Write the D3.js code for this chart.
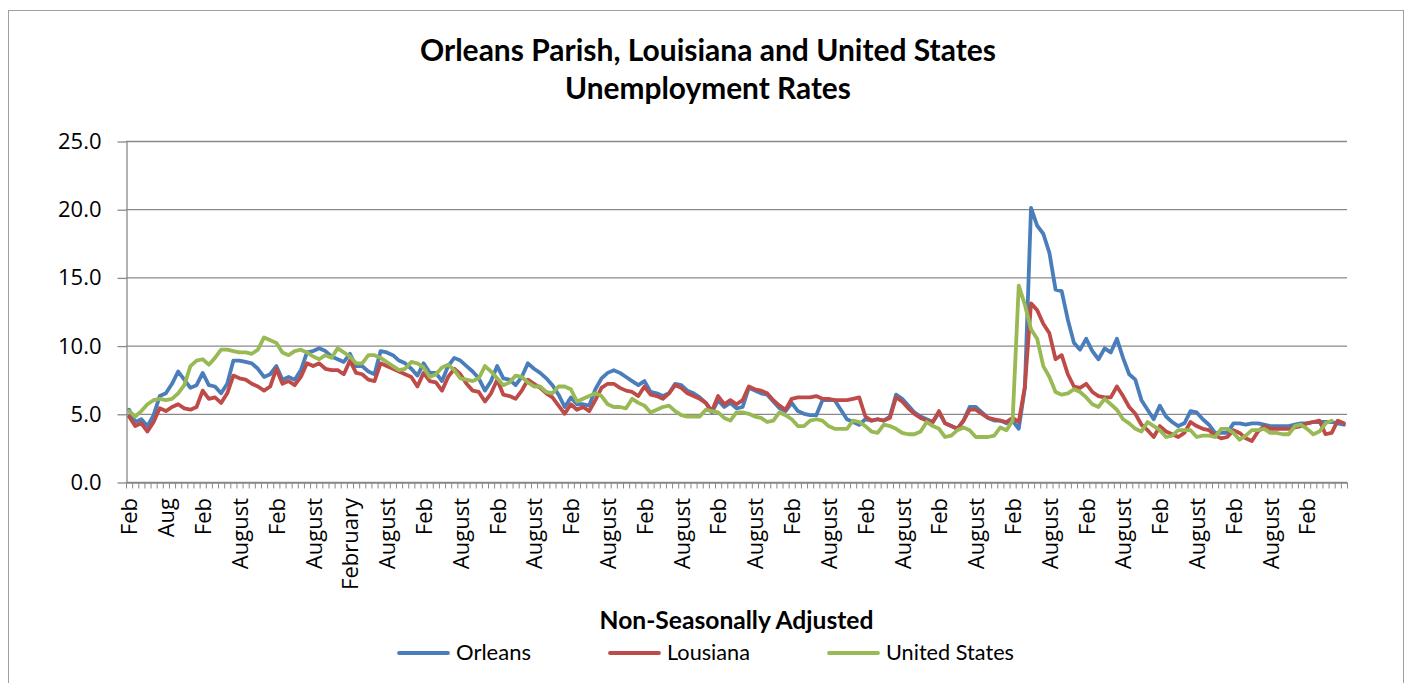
<!DOCTYPE html>
<html>
<head>
<meta charset="utf-8">
<script src="https://cdn.jsdelivr.net/npm/d3@7/dist/d3.min.js"></script>
<style>
	body { margin: 0; background: #fff; }
	#vizHolder { width: 1412px; height: 683px; overflow: hidden; }
	text { fill: #000; }
</style>
</head>
<body>
<div id="vizHolder"></div>
<script>
// Monthly, non-seasonally adjusted rates (categories run 199 months)
var tickLabels = ['Feb', 'Aug', 'Feb', 'August', 'Feb', 'August', 'February', 'August',
	'Feb', 'August', 'Feb', 'August', 'Feb', 'August', 'Feb', 'August', 'Feb', 'August',
	'Feb', 'August', 'Feb', 'August', 'Feb', 'August', 'Feb', 'August', 'Feb', 'August',
	'Feb', 'August', 'Feb', 'August', 'Feb'];
var labelEvery = 6;
var monthCount = 199;

var orleans = [
	5.3, 4.4, 4.6, 4.1, 4.9, 6.3, 6.5, 7.2, 8.1, 7.5,
	6.9, 7.1, 8.0, 7.1, 7.0, 6.5, 7.2, 8.9, 8.9, 8.8,
	8.7, 8.3, 7.7, 7.9, 8.5, 7.5, 7.7, 7.5, 8.2, 9.5,
	9.6, 9.8, 9.6, 9.2, 9.0, 8.8, 9.4, 8.5, 8.5, 8.1,
	7.9, 9.6, 9.5, 9.3, 8.9, 8.7, 8.3, 7.8, 8.7, 8.0,
	8.0, 7.4, 8.5, 9.1, 8.9, 8.5, 8.1, 7.6, 6.7, 7.4,
	8.5, 7.6, 7.5, 7.1, 7.7, 8.7, 8.3, 8.0, 7.6, 7.1,
	6.4, 5.5, 6.2, 5.7, 5.7, 5.6, 6.8, 7.6, 8.0, 8.2,
	8.0, 7.7, 7.4, 7.1, 7.4, 6.6, 6.5, 6.3, 6.5, 7.2,
	7.1, 6.7, 6.5, 6.2, 5.8, 5.1, 6.0, 5.5, 5.8, 5.4,
	5.5, 6.9, 6.7, 6.5, 6.4, 5.9, 5.4, 5.2, 5.8, 5.2,
	5.0, 4.9, 4.9, 6.0, 6.0, 6.0, 5.3, 4.6, 4.4, 4.2,
	4.6, 4.5, 4.6, 4.5, 4.8, 6.4, 6.1, 5.6, 5.1, 4.8,
	4.6, 4.4, 5.1, 4.3, 4.1, 3.9, 4.5, 5.5, 5.5, 5.1,
	4.7, 4.5, 4.5, 4.3, 4.5, 3.9, 6.9, 20.1, 18.8, 18.2,
	16.8, 14.1, 14.0, 11.9, 10.2, 9.7, 10.5, 9.6, 9.0, 9.8,
	9.5, 10.5, 9.1, 7.9, 7.5, 6.0, 5.3, 4.6, 5.6, 4.8,
	4.4, 4.1, 4.3, 5.2, 5.1, 4.6, 4.2, 3.6, 3.6, 3.6,
	4.3, 4.3, 4.2, 4.3, 4.3, 4.2, 4.1, 4.1, 4.1, 4.1,
	4.2, 4.3, 4.3, 4.4, 4.4, 4.4, 4.4, 4.3, 4.2
];

var louisiana = [
	4.8, 4.1, 4.3, 3.7, 4.4, 5.4, 5.2, 5.5, 5.7, 5.4,
	5.3, 5.5, 6.7, 6.1, 6.2, 5.8, 6.5, 7.8, 7.6, 7.5,
	7.2, 7.0, 6.7, 7.0, 8.3, 7.2, 7.4, 7.1, 7.7, 8.7,
	8.5, 8.7, 8.3, 8.2, 8.2, 7.9, 8.9, 8.0, 7.9, 7.5,
	7.4, 8.7, 8.5, 8.3, 8.1, 7.9, 7.7, 7.0, 8.0, 7.4,
	7.3, 6.7, 7.7, 8.3, 7.9, 7.2, 6.7, 6.6, 5.9, 6.5,
	7.5, 6.4, 6.3, 6.1, 6.7, 7.5, 7.2, 6.9, 6.5, 6.2,
	5.6, 5.0, 5.7, 5.3, 5.5, 5.2, 6.0, 6.9, 7.2, 7.2,
	6.9, 6.7, 6.6, 6.3, 7.0, 6.4, 6.3, 6.1, 6.5, 7.1,
	6.9, 6.5, 6.3, 6.1, 5.8, 5.2, 6.3, 5.7, 6.0, 5.7,
	6.0, 7.0, 6.8, 6.7, 6.5, 6.0, 5.6, 5.3, 6.1, 6.2,
	6.2, 6.2, 6.3, 6.1, 6.1, 6.0, 6.0, 6.0, 6.1, 6.2,
	4.8, 4.5, 4.6, 4.5, 4.7, 6.2, 5.9, 5.4, 5.0, 4.7,
	4.5, 4.4, 5.2, 4.3, 4.1, 3.9, 4.5, 5.3, 5.3, 5.0,
	4.7, 4.6, 4.5, 4.4, 4.7, 4.4, 7.0, 13.1, 12.6, 11.6,
	10.9, 9.0, 9.3, 7.9, 7.0, 6.9, 7.2, 6.6, 6.3, 6.2,
	6.2, 7.0, 6.3, 5.5, 5.0, 4.2, 3.8, 3.3, 4.1, 3.7,
	3.5, 3.3, 3.6, 4.4, 4.1, 3.9, 3.8, 3.4, 3.2, 3.3,
	3.8, 3.6, 3.2, 3.0, 3.7, 4.1, 3.9, 3.9, 3.9, 3.9,
	4.0, 4.1, 4.3, 4.4, 4.5, 3.5, 3.6, 4.5, 4.3
];

var unitedStates = [
	5.2, 4.8, 5.2, 5.7, 6.0, 6.1, 6.0, 6.1, 6.5, 7.1,
	8.5, 8.9, 9.0, 8.6, 9.1, 9.7, 9.7, 9.6, 9.5, 9.5, 9.4, 9.7,
	10.6, 10.4, 10.2, 9.5, 9.3, 9.6, 9.7, 9.5, 9.2, 9.0, 9.3, 9.1,
	9.8, 9.5, 9.2, 8.7, 8.7, 9.3, 9.3, 9.1, 8.8, 8.5, 8.2, 8.3,
	8.8, 8.7, 8.4, 7.7, 7.9, 8.4, 8.6, 8.2, 7.6, 7.5, 7.4, 7.6,
	8.5, 8.1, 7.6, 7.1, 7.3, 7.8, 7.7, 7.3, 7.0, 7.0, 6.6, 6.5,
	7.0, 7.0, 6.8, 5.9, 6.1, 6.3, 6.5, 6.3, 5.7, 5.5, 5.5, 5.4,
	6.1, 5.8, 5.6, 5.1, 5.3, 5.5, 5.6, 5.2, 4.9, 4.8, 4.8, 4.8,
	5.3, 5.2, 5.1, 4.7, 4.5, 5.1, 5.1, 5.0, 4.8, 4.7, 4.4, 4.5,
	5.1, 4.9, 4.6, 4.1, 4.1, 4.5, 4.6, 4.5, 4.1, 3.9, 3.9, 3.9,
	4.5, 4.4, 4.1, 3.7, 3.6, 4.2, 4.1, 3.9, 3.6, 3.5, 3.5, 3.7,
	4.4, 4.1, 3.9, 3.3, 3.4, 3.8, 4.0, 3.8, 3.3, 3.3, 3.3, 3.4,
	4.0, 3.8, 4.5, 14.4, 13.0, 11.2, 10.5, 8.5, 7.7, 6.6, 6.4, 6.5,
	6.8, 6.6, 6.2, 5.7, 5.5, 6.1, 5.7, 5.3, 4.6, 4.3, 3.9, 3.7,
	4.4, 4.1, 3.8, 3.3, 3.4, 3.8, 3.8, 3.8, 3.3, 3.4, 3.4, 3.3,
	3.9, 3.9, 3.6, 3.1, 3.4, 3.8, 3.8, 3.9, 3.6, 3.6, 3.5, 3.5,
	4.1, 4.2, 3.9, 3.5, 3.7, 4.3, 4.5
];

var seriesNames = ['Orleans', 'Lousiana', 'United States'];
var seriesColors = ['#4a7ebb', '#be4b48', '#98b954'];
var yTicks = [0, 5, 10, 15, 20, 25];

var vizHolder = document.querySelector('#vizHolder'),
	width = 1412,
	height = 683,
	plot = { left: 126, right: 1347, top: 141, bottom: 482 },
	gridColor = '#898989';

// shrink or grow a text so it spans the width the original had
function fitText(sel, target) {
	var len = sel.node().getComputedTextLength();
	var fs = parseFloat(sel.attr('font-size'));
	sel.attr('font-size', (fs * target / len).toFixed(2));
}

function drawViz() {
	d3.select(vizHolder).selectAll('*').remove();

	var svg = d3.select(vizHolder)
		.append('svg')
		.attr('width', width)
		.attr('height', height);

	// chart frame
	svg.append('rect')
		.attr('x', 8.5).attr('y', 10.5)
		.attr('width', 1395).attr('height', 700)
		.attr('fill', '#fff')
		.attr('stroke', '#a0a0a0')
		.attr('stroke-width', 1);

	// title
	var title = svg.append('g')
		.attr('font-family', 'Lato, "Open Sans", sans-serif')
		.attr('font-weight', 'bold')
		.attr('text-anchor', 'middle');
	fitText(title.append('text').attr('x', 708).attr('y', 61).attr('font-size', 26)
		.text('Orleans Parish, Louisiana and United States'), 576);
	fitText(title.append('text').attr('x', 708).attr('y', 99).attr('font-size', 26)
		.text('Unemployment Rates'), 286);

	var categories = d3.range(monthCount);

	var xScale = d3.scaleBand()
		.domain(categories)
		.range([plot.left, plot.right]);

	// category boundaries, for the little tick marks
	var xEdge = d3.scaleLinear()
		.domain([0, monthCount])
		.range([plot.left, plot.right]);

	var yScale = d3.scaleLinear()
		.domain([0, 25])
		.range([plot.bottom, plot.top]);

	// gridlines
	svg.append('g')
		.selectAll('line')
		.data(yTicks)
		.enter()
		.append('line')
		.attr('x1', plot.left)
		.attr('x2', plot.right)
		.attr('y1', function(d) { return yScale(d) + 0.5; })
		.attr('y2', function(d) { return yScale(d) + 0.5; })
		.attr('stroke', gridColor)
		.attr('stroke-width', 1.3);

	// y axis
	var yAxis = svg.append('g')
		.attr('class', 'y axis')
		.attr('transform', 'translate(' + (plot.left + 0.5) + ',0.5)')
		.call(d3.axisLeft(yScale)
			.tickValues(yTicks)
			.tickFormat(d3.format('.1f'))
			.tickSize(9)
			.tickSizeOuter(0)
			.tickPadding(16));
	yAxis.selectAll('line, path').attr('stroke', gridColor).attr('stroke-width', 1.3);
	yAxis.selectAll('text')
		.attr('font-family', '"Open Sans", sans-serif')
		.attr('font-size', 22)
		.attr('fill', '#000');

	// x axis (ticks on category edges)
	var xAxis = svg.append('g')
		.attr('class', 'x axis')
		.attr('transform', 'translate(0,' + (plot.bottom + 0.5) + ')')
		.call(d3.axisBottom(xEdge)
			.tickValues(d3.range(monthCount + 1))
			.tickFormat('')
			.tickSize(6)
			.tickSizeOuter(0));
	xAxis.selectAll('line').attr('stroke', gridColor).attr('stroke-width', 1);
	xAxis.select('path').attr('stroke', gridColor).attr('stroke-width', 1.3);

	// rotated month labels
	svg.append('g')
		.selectAll('text')
		.data(tickLabels)
		.enter()
		.append('text')
		.attr('transform', function(d, i) {
			var cx = xScale(i * labelEvery) + xScale.bandwidth() / 2;
			return 'translate(' + cx + ',' + (plot.bottom + 16) + ') rotate(-90)';
		})
		.attr('dy', '0.38em')
		.attr('text-anchor', 'end')
		.attr('font-family', '"Open Sans", sans-serif')
		.attr('font-size', 22)
		.text(function(d) { return d; });

	// series lines
	var line = d3.line()
		.x(function(d, i) { return xScale(i) + xScale.bandwidth() / 2; })
		.y(function(d) { return yScale(d); });

	var seriesData = [orleans, louisiana, unitedStates];

	svg.append('g')
		.selectAll('path')
		.data(seriesData)
		.enter()
		.append('path')
		.attr('d', line)
		.attr('fill', 'none')
		.attr('stroke', function(d, i) { return seriesColors[i]; })
		.attr('stroke-width', 3.8)
		.attr('stroke-linejoin', 'round')
		.attr('stroke-linecap', 'round');

	// axis title
	fitText(svg.append('text')
		.attr('x', (plot.left + plot.right) / 2)
		.attr('y', 629)
		.attr('text-anchor', 'middle')
		.attr('font-family', 'Lato, "Open Sans", sans-serif')
		.attr('font-weight', 'bold')
		.attr('font-size', 21)
		.text('Non-Seasonally Adjusted'), 274);

	// legend
	var legendWidths = [75, 83, 128];
	var legend = svg.append('g').attr('transform', 'translate(399,653)');
	var lx = 0;
	seriesNames.forEach(function(name, i) {
		legend.append('line')
			.attr('x1', lx).attr('x2', lx + 49)
			.attr('stroke', seriesColors[i])
			.attr('stroke-width', 3.8)
			.attr('stroke-linecap', 'round');
		var t = legend.append('text')
			.attr('x', lx + 57)
			.attr('y', 7)
			.attr('font-family', 'Lato, "Open Sans", sans-serif')
			.attr('font-size', 20)
			.text(name);
		fitText(t, legendWidths[i]);
		lx += 57 + legendWidths[i] + 79;
	});
}

drawViz();
</script>
</body>
</html>
